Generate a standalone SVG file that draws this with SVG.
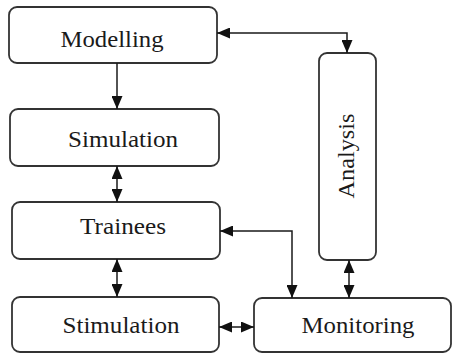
<svg xmlns="http://www.w3.org/2000/svg" width="453" height="353" viewBox="0 0 453 353">
<style>
.box{fill:#fff;stroke:#333;stroke-width:1.8}
.lbl{font-family:"Liberation Serif",serif;font-size:23px;fill:#1a1a1a;text-anchor:middle}
.ln{fill:none;stroke:#1a1a1a;stroke-width:1.5}
</style>
<defs>
<marker id="ah" viewBox="0 0 13 11" refX="13" refY="5.5" markerWidth="13" markerHeight="11" markerUnits="userSpaceOnUse" orient="auto-start-reverse">
<path d="M0,0 L13,5.5 L0,11 Z" fill="#111"/>
</marker>
</defs>
<rect width="453" height="353" fill="#fff"/>
<g id="modelling"><rect class="box" x="9" y="7" width="208" height="56" rx="8"/><text class="lbl" x="112" y="47" textLength="103" lengthAdjust="spacingAndGlyphs">Modelling</text></g>
<g id="simulation"><rect class="box" x="10" y="109" width="209" height="57" rx="8"/><text class="lbl" x="123" y="147" textLength="110" lengthAdjust="spacingAndGlyphs">Simulation</text></g>
<g id="trainees"><rect class="box" x="12" y="202" width="208" height="57" rx="8"/><text class="lbl" x="123" y="234" textLength="86" lengthAdjust="spacingAndGlyphs">Trainees</text></g>
<g id="stimulation"><rect class="box" x="12" y="297" width="207" height="55" rx="8"/><text class="lbl" x="121" y="333" textLength="117" lengthAdjust="spacingAndGlyphs">Stimulation</text></g>
<g id="monitoring"><rect class="box" x="254" y="298" width="197" height="54" rx="8"/><text class="lbl" x="358" y="333" textLength="113" lengthAdjust="spacingAndGlyphs">Monitoring</text></g>
<g id="analysis"><rect class="box" x="319" y="53" width="57" height="207" rx="8"/><text class="lbl" transform="translate(354,156) rotate(-90)" x="0" y="0" textLength="85" lengthAdjust="spacingAndGlyphs">Analysis</text></g>
<g id="connectors">
<path class="ln" d="M117,63 V109" marker-end="url(#ah)"/>
<path class="ln" d="M117,166 V202" marker-start="url(#ah)" marker-end="url(#ah)"/>
<path class="ln" d="M117,259 V297" marker-start="url(#ah)" marker-end="url(#ah)"/>
<path class="ln" d="M217,33 H347 V53" marker-start="url(#ah)" marker-end="url(#ah)"/>
<path class="ln" d="M220,231 H292 V298" marker-start="url(#ah)" marker-end="url(#ah)"/>
<path class="ln" d="M349,260 V298" marker-start="url(#ah)" marker-end="url(#ah)"/>
<path class="ln" d="M219,327 H254" marker-start="url(#ah)" marker-end="url(#ah)"/>
</g>
</svg>
